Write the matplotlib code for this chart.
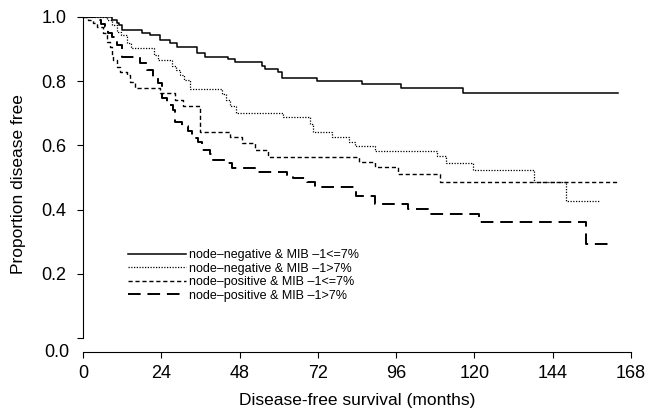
import matplotlib
matplotlib.use("Agg")
import matplotlib.pyplot as plt

plt.rcParams["font.family"] = ["Liberation Sans", "DejaVu Sans"]

# Kaplan-Meier steps: event times (months) and survival after each step
neg_low_t = [8.9, 10.4, 11.0, 12.0, 18.1, 20.5, 23.6, 26.7, 28.8, 35.0, 37.4, 44.5, 46.6,
             54.9, 55.8, 59.8, 61.0, 71.7, 85.5, 97.5, 116.5]
neg_low_s = [0.991, 0.981, 0.975, 0.960, 0.950, 0.944, 0.928, 0.919, 0.907, 0.888, 0.875,
             0.869, 0.860, 0.847, 0.838, 0.829, 0.810, 0.801, 0.791, 0.779, 0.763]
neg_low_end = 164.0

neg_high_t = [7.4, 8.9, 10.4, 11.6, 13.5, 14.7, 21.8, 23.0, 27.3, 28.5, 29.7, 31.0, 32.8,
              42.6, 43.8, 45.1, 46.9, 61.3, 69.6, 70.5, 76.3, 81.5, 83.4, 89.5, 108.5,
              111.3, 119.6, 138.3, 148.1]
neg_high_s = [0.991, 0.975, 0.953, 0.944, 0.919, 0.903, 0.882, 0.866, 0.847, 0.835, 0.819,
              0.804, 0.776, 0.760, 0.741, 0.723, 0.701, 0.688, 0.667, 0.642, 0.626, 0.611,
              0.598, 0.583, 0.567, 0.545, 0.523, 0.486, 0.427]
neg_high_end = 158.5

pos_low_t = [1.5, 3.1, 4.3, 6.1, 7.4, 8.3, 8.9, 9.2, 10.4, 11.3, 13.5, 14.4, 15.9, 23.6,
             28.2, 30.7, 35.9, 45.1, 48.7, 52.7, 56.7, 84.6, 89.5, 96.6, 109.4]
pos_low_s = [0.991, 0.981, 0.969, 0.950, 0.922, 0.907, 0.882, 0.866, 0.844, 0.829, 0.819,
             0.798, 0.779, 0.763, 0.741, 0.723, 0.642, 0.626, 0.607, 0.586, 0.564, 0.548,
             0.533, 0.511, 0.486]
pos_low_end = 164.0

pos_high_t = [4.3, 5.5, 6.7, 7.7, 8.9, 10.4, 12.0, 17.5, 19.6, 21.5, 23.0, 24.2, 25.8,
              27.6, 28.2, 30.3, 32.2, 33.4, 35.3, 36.5, 38.9, 39.9, 44.1, 45.7, 52.7,
              62.5, 64.4, 68.7, 71.1, 83.7, 89.5, 99.6, 106.4, 121.4, 154.2]
pos_high_s = [0.991, 0.978, 0.969, 0.950, 0.938, 0.913, 0.875, 0.857, 0.835, 0.813, 0.794,
              0.748, 0.726, 0.710, 0.673, 0.660, 0.645, 0.623, 0.611, 0.586, 0.573, 0.555,
              0.545, 0.530, 0.517, 0.508, 0.498, 0.486, 0.470, 0.442, 0.417, 0.402, 0.386,
              0.361, 0.293]
pos_high_end = 162.5

labels = [
    "node\u2013negative & MIB \u20131<=7%",
    "node\u2013negative & MIB \u20131>7%",
    "node\u2013positive & MIB \u20131<=7%",
    "node\u2013positive & MIB \u20131>7%",
]
x_ticks = [0, 24, 48, 72, 96, 120, 144, 168]
y_ticks = [0.0, 0.2, 0.4, 0.6, 0.8, 1.0]


def km_curve(times, surv, end):
    return [0.0] + times + [end], [1.0] + surv + [surv[-1]]


fig = plt.figure(figsize=(6.45, 4.11), dpi=100)
ax = fig.add_axes([83 / 645, 59 / 411, 548 / 645, 335 / 411])

styles = [
    dict(linestyle="-", linewidth=1.1),
    dict(linestyle=(0, (1, 1.2)), linewidth=0.9),
    dict(linestyle=(0, (3, 2)), linewidth=1.0),
    dict(linestyle=(0, (6.5, 3.5)), linewidth=1.4),
]
curves = [
    km_curve(neg_low_t, neg_low_s, neg_low_end),
    km_curve(neg_high_t, neg_high_s, neg_high_end),
    km_curve(pos_low_t, pos_low_s, pos_low_end),
    km_curve(pos_high_t, pos_high_s, pos_high_end),
]
for (t, s), st, lab in zip(curves, styles, labels):
    ax.plot(t, s, drawstyle="steps-post", color="black", label=lab, **st)

ax.set_xlim(0, 168)
ax.set_ylim(-0.044, 1.0)
for side in ("top", "right"):
    ax.spines[side].set_visible(False)
ax.spines["left"].set_bounds(0, 1.0)
ax.spines["left"].set_linewidth(0.8)
ax.spines["bottom"].set_linewidth(0.8)

ax.set_xticks(x_ticks)
ax.set_xticklabels([str(v) for v in x_ticks])
ax.set_yticks(y_ticks)
ax.set_yticklabels([""] + ["%.1f" % v for v in y_ticks[1:]])
ax.tick_params(direction="out", length=4, width=0.8, labelsize=13)
ax.tick_params(axis="y", pad=8)
ax.tick_params(axis="x", pad=5)
ax.text(-0.025, -0.044, "0.0", transform=ax.get_yaxis_transform(),
        ha="right", va="center", fontsize=13)

ax.set_xlabel("Disease-free survival (months)", fontsize=12.5, labelpad=8)
ax.set_ylabel("Proportion disease free", fontsize=12.5, labelpad=11)

ax.legend(loc="upper left", bbox_to_anchor=(128 / 645, 1 - 249 / 411),
          bbox_transform=fig.transFigure, frameon=False, fontsize=9,
          handlelength=4.6, handletextpad=0.3, labelspacing=0.12,
          borderpad=0, borderaxespad=0)

fig.savefig("out.png", dpi=100)
plt.close(fig)
